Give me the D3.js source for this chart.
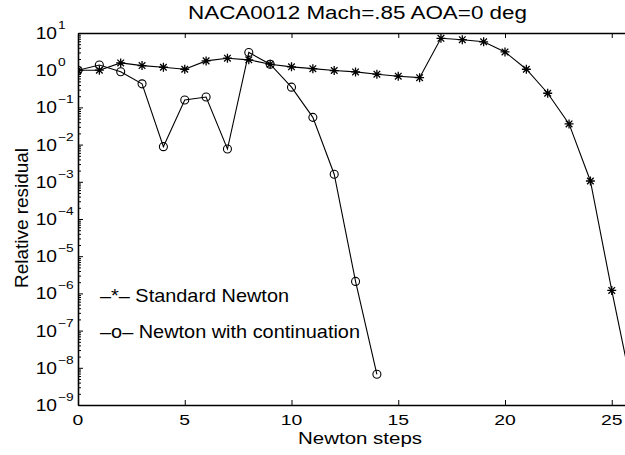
<!DOCTYPE html>
<html>
<head>
<meta charset="utf-8">
<script src="https://cdn.jsdelivr.net/npm/d3@7"></script>
<style>
    body { margin: 0; background: #fff; }
    text { font-family: "Liberation Sans", Arial, Helvetica, sans-serif; fill: #000; }
    .axis path, .axis line { stroke: #000; }
</style>
</head>
<body>
<div id="vis"></div>
<script>
// data
var stdSteps = [0, 1, 2, 3, 4, 5, 6, 7, 8, 9, 10, 11, 12, 13, 14, 15, 16, 17, 18, 19, 20, 21, 22, 23, 24, 25, 26];
var stdResidual = [1.0, 1.0, 1.57, 1.33, 1.2, 1.06, 1.78, 2.1, 1.9, 1.45, 1.23, 1.1, 0.98, 0.9, 0.78, 0.69, 0.63,
    7.2, 6.6, 5.8, 3.1, 1.06, 0.24, 0.036, 1.05e-3, 1.2e-6, 2e-9];
var contSteps = [0, 1, 2, 3, 4, 5, 6, 7, 8, 9, 10, 11, 12, 13, 14];
var contResidual = [1.0, 1.38, 0.91, 0.43, 0.0088, 0.158, 0.19, 0.0076, 3.0, 1.45, 0.35, 0.054, 1.6e-3, 2.1e-6, 6.7e-9];

var xTicks = [0, 5, 10, 15, 20, 25];
var yExponents = [1, 0, -1, -2, -3, -4, -5, -6, -7, -8, -9];

var titleText = 'NACA0012 Mach=.85 AOA=0 deg';
var xLabel = 'Newton steps';
var yLabel = 'Relative residual';
var legendLabels = ['\u2013*\u2013 Standard Newton', '\u2013o\u2013 Newton with continuation'];

var width = 625, height = 455;
var margin = { left: 78, top: 33, bottom: 50 };

var svg = d3.select('#vis')
    .append('svg')
        .attr('width', width)
        .attr('height', height);

var x = d3.scaleLinear()
    .domain([0, 30])
    .range([margin.left, margin.left + 30 * 21.35]);

var y = d3.scaleLog()
    .domain([1e-9, 10])
    .range([height - margin.bottom, margin.top]);

// minor ticks for the log axis
var minorTicks = [];
for(var e = -9; e < 1; ++e)
{
    for(var k = 2; k <= 9; ++k) minorTicks.push(k * Math.pow(10, e));
}

svg.append('clipPath')
    .attr('id', 'plotclip')
    .append('rect')
        .attr('x', x(0))
        .attr('y', y(10))
        .attr('width', x(30) - x(0))
        .attr('height', y(1e-9) - y(10));

// axes
svg.append('g')
    .attr('class', 'axis')
    .attr('transform', 'translate(0,' + y(1e-9) + ')')
    .call(d3.axisBottom(x).tickValues(xTicks).tickSizeInner(-5).tickSizeOuter(0).tickFormat(''))
    .select('.domain').attr('stroke-width', 1.6);

svg.append('g')
    .attr('class', 'axis')
    .attr('transform', 'translate(0,' + y(10) + ')')
    .call(d3.axisTop(x).tickValues(xTicks).tickSizeInner(-5).tickSizeOuter(0).tickFormat(''))
    .select('.domain').attr('stroke-width', 1.4);

svg.append('g')
    .attr('class', 'axis')
    .attr('transform', 'translate(' + x(0) + ',0)')
    .call(d3.axisLeft(y).tickValues(yExponents.map(function(p) { return Math.pow(10, p); }))
        .tickSizeInner(-5).tickSizeOuter(0).tickFormat(''))
    .select('.domain').attr('stroke-width', 1.6);

svg.append('g')
    .attr('class', 'axis')
    .attr('transform', 'translate(' + x(0) + ',0)')
    .call(d3.axisLeft(y).tickValues(minorTicks).tickSizeInner(-3).tickSizeOuter(0).tickFormat(''))
    .select('.domain').remove();

svg.selectAll('.axis text').remove();

// stretched text helper (the scan is wider than tall)
function stretchedText(parent, tx, ty, str, size, anchor, sx)
{
    return parent.append('g')
        .attr('transform', 'translate(' + tx + ',' + ty + ') scale(' + sx + ',1)')
        .append('text')
            .attr('font-size', size)
            .attr('text-anchor', anchor)
            .text(str);
}

// x tick labels
xTicks.forEach(function(t) {
    stretchedText(svg, x(t), y(1e-9) + 20, String(t), 15.5, 'middle', 1.25);
});

// y tick labels 10^n
yExponents.forEach(function(p) {
    var ty = y(Math.pow(10, p));
    stretchedText(svg, 57, ty + 6, '10', 16, 'end', 1.2);
    stretchedText(svg, 58, ty - 4, (p < 0 ? '\u2212' + (-p) : String(p)), 11, 'start', 1.25);
});

// title and axis labels
svg.append('text')
    .attr('x', 188).attr('y', 19)
    .attr('font-size', 17.5)
    .attr('textLength', 339).attr('lengthAdjust', 'spacingAndGlyphs')
    .text(titleText);

svg.append('text')
    .attr('x', 298).attr('y', 443.5)
    .attr('font-size', 16.5)
    .attr('textLength', 124).attr('lengthAdjust', 'spacingAndGlyphs')
    .text(xLabel);

svg.append('text')
    .attr('transform', 'translate(28,288) rotate(-90)')
    .attr('font-size', 18)
    .attr('textLength', 140).attr('lengthAdjust', 'spacingAndGlyphs')
    .text(yLabel);

// legend
svg.append('text')
    .attr('x', 100).attr('y', 301.5)
    .attr('font-size', 19)
    .attr('textLength', 189).attr('lengthAdjust', 'spacingAndGlyphs')
    .text(legendLabels[0]);

svg.append('text')
    .attr('x', 100).attr('y', 338)
    .attr('font-size', 19)
    .attr('textLength', 260).attr('lengthAdjust', 'spacingAndGlyphs')
    .text(legendLabels[1]);

// series
var plot = svg.append('g').attr('clip-path', 'url(#plotclip)');

var line = d3.line()
    .x(function(d) { return x(d[0]); })
    .y(function(d) { return y(d[1]); });

var stdData = d3.zip(stdSteps, stdResidual);
var contData = d3.zip(contSteps, contResidual);

plot.append('path')
    .datum(stdData)
    .attr('fill', 'none')
    .attr('stroke', '#000')
    .attr('stroke-width', 1.1)
    .attr('d', line);

plot.append('path')
    .datum(contData)
    .attr('fill', 'none')
    .attr('stroke', '#000')
    .attr('stroke-width', 1.1)
    .attr('d', line);

var starPath = 'M-4.5,0H4.5M0,-4.5V4.5M-3.3,-3.3L3.3,3.3M-3.3,3.3L3.3,-3.3';

plot.selectAll('.star')
    .data(stdData)
    .enter()
    .append('path')
        .attr('class', 'star')
        .attr('transform', function(d) { return 'translate(' + x(d[0]) + ',' + y(d[1]) + ')'; })
        .attr('d', starPath)
        .attr('stroke', '#000')
        .attr('stroke-width', 1.3)
        .attr('fill', 'none');

plot.selectAll('.circ')
    .data(contData)
    .enter()
    .append('circle')
        .attr('class', 'circ')
        .attr('cx', function(d) { return x(d[0]); })
        .attr('cy', function(d) { return y(d[1]); })
        .attr('r', 4)
        .attr('stroke', '#000')
        .attr('stroke-width', 1.1)
        .attr('fill', 'none');
</script>
</body>
</html>
